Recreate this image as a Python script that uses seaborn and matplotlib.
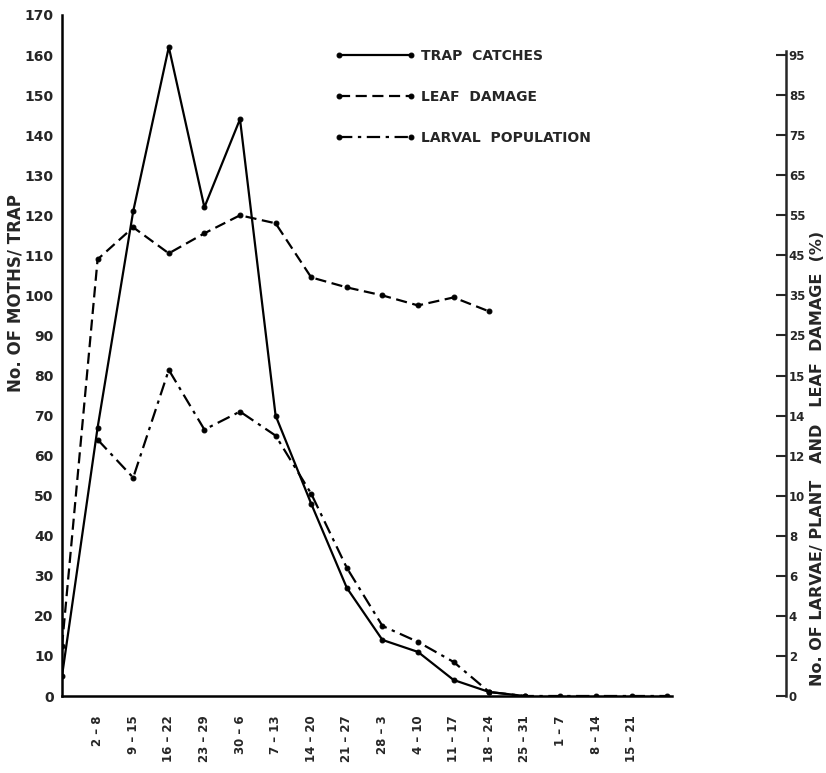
import numpy as np
import matplotlib
matplotlib.use("Agg")
import matplotlib.pyplot as plt
import seaborn as sns

# ---------------- data ----------------
week_labels = ["2 – 8", "9 – 15", "16 – 22", "23 – 29", "30 – 6", "7 – 13",
               "14 – 20", "21 – 27", "28 – 3", "4 – 10", "11 – 17", "18 – 24",
               "25 – 31", "1 – 7", "8 – 14", "15 – 21"]

# moths per trap (left axis), weeks 0..13
trap_weeks = list(range(0, 14))
trap_catches = [5, 67, 121, 162, 122, 144, 70, 48, 27, 14, 11, 4, 1, 0]

# leaf damage (%), right axis, weeks 0..12
leaf_weeks = list(range(0, 13))
leaf_damage = [2.5, 44, 52, 45.5, 50.5, 55, 53, 39.5, 37, 35, 32.5, 34.5, 31]

# larvae per plant, right axis, weeks 1..17
larval_weeks = list(range(1, 18))
larval_population = [12.8, 10.9, 16.4, 13.3, 14.1, 13.0, 10.1, 6.4, 3.5, 2.7,
                     1.7, 0.2, 0, 0, 0, 0, 0]

left_ticks = list(range(0, 171, 10))
right_tick_values = [0, 2, 4, 6, 8, 10, 12, 14, 15, 25, 35, 45, 55, 65, 75, 85, 95]
right_tick_labels = [str(v) for v in right_tick_values]

# ---------------- figure ----------------
sns.set_style("white")
plt.rcParams["font.family"] = ["DejaVu Sans"]
plt.rcParams["font.weight"] = "bold"

W, H = 826, 773
fig = plt.figure(figsize=(W / 100, H / 100), dpi=100)

x0, y0px, x1, ytop = 62, 696, 672, 15
ax = fig.add_axes([x0 / W, 1 - y0px / H, (x1 - x0) / W, (y0px - ytop) / H])
step = 35.6
ax.set_xlim(0, (x1 - x0) / step)
ax.set_ylim(0, 170)

# right axis positions share the left scale (one tick every 10 units)
right_pos = np.arange(0, 161, 10)
leaf_y = np.interp(leaf_damage, right_tick_values, right_pos)
larval_y = np.interp(larval_population, right_tick_values, right_pos)

common = dict(ax=ax, color="black", linewidth=1.6, marker="o", markersize=3.5,
              markeredgecolor="black", markerfacecolor="black")
sns.lineplot(x=trap_weeks, y=trap_catches, label="TRAP  CATCHES", **common)
sns.lineplot(x=leaf_weeks, y=leaf_y, label="LEAF  DAMAGE", **common)
sns.lineplot(x=larval_weeks, y=larval_y, label="LARVAL  POPULATION", **common)

lines = ax.get_lines()
lines[0].set_linestyle("-")
lines[1].set_linestyle((0, (5, 2.5)))
lines[2].set_linestyle((0, (6, 2.5, 1.5, 2.5)))

# spines / ticks
for s in ["top", "right"]:
    ax.spines[s].set_visible(False)
for s in ["left", "bottom"]:
    ax.spines[s].set_linewidth(1.8)
    ax.spines[s].set_color("black")

ax.set_yticks(left_ticks)
ax.set_yticklabels([str(v) for v in left_ticks], fontsize=10, fontweight="bold")
ax.tick_params(axis="y", direction="in", length=8, width=1.5, pad=6)
ax.set_xticks(range(1, len(week_labels) + 1))
ax.set_xticklabels(week_labels, rotation=90, fontsize=8.5, fontweight="bold")
ax.tick_params(axis="x", direction="in", length=6, width=1.3, pad=14)

# legend
ax.legend(loc="upper left", bbox_to_anchor=(322 / W, 1 - 36 / H),
          bbox_transform=fig.transFigure, frameon=False, handlelength=5.8,
          labelspacing=1.95, numpoints=2, handletextpad=0.4,
          prop={"weight": "bold", "size": 10})

# standalone right axis
ax2 = fig.add_axes([786 / W - 0.02, 1 - y0px / H, 0.02, (y0px - ytop) / H])
ax2.set_ylim(0, 170)
ax2.patch.set_visible(False)
for s in ["top", "left", "bottom"]:
    ax2.spines[s].set_visible(False)
ax2.spines["right"].set_linewidth(1.8)
ax2.spines["right"].set_bounds(0, 161)
ax2.set_xticks([])
ax2.yaxis.tick_right()
ax2.set_yticks(right_pos)
ax2.set_yticklabels(right_tick_labels, fontsize=8.5, fontweight="bold")
ax2.tick_params(axis="y", direction="in", length=7, width=1.5, pad=2)

fig.text(16 / W, 1 - 293 / H, "No. OF MOTHS/ TRAP", rotation=90,
         ha="center", va="center", fontsize=12, fontweight="bold")
fig.text(817 / W, 1 - 458 / H, "No. OF LARVAE/ PLANT   AND   LEAF  DAMAGE  (%)",
         rotation=90, ha="center", va="center", fontsize=11.5, fontweight="bold")

fig.savefig("out.png", dpi=100, facecolor="white")
